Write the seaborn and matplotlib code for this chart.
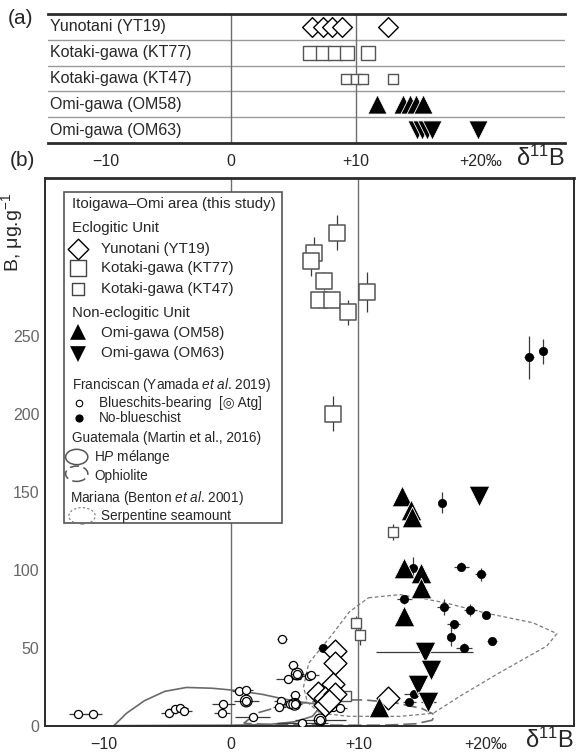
import matplotlib
matplotlib.use("Agg")
import matplotlib.pyplot as plt
from matplotlib.patches import Rectangle, Ellipse
import seaborn as sns


# Panel (a): d11B of each sample, one row per locality
ROW_LABELS = ["Yunotani (YT19)", "Kotaki-gawa (KT77)", "Kotaki-gawa (KT47)",
              "Omi-gawa (OM58)", "Omi-gawa (OM63)"]
A_YT19 = [6.5, 7.4, 8.1, 8.9, 12.6]
A_KT77 = [6.3, 7.4, 8.3, 9.3, 11.0]
A_KT47 = [9.2, 10.0, 10.6, 13.0]
A_OM58 = [11.7, 13.8, 14.3, 14.8, 15.4]
A_OM63 = [14.9, 15.3, 15.7, 16.1, 19.8]

# Panel (b): d11B vs B (ug/g)
YT19_X = [8.2, 8.2, 8.0, 6.8, 7.4, 8.2, 7.4, 7.7, 12.3]
YT19_Y = [48, 40, 27, 21, 18, 20, 13, 16, 18]
YT19_YERR = [6, 0, 0, 0, 0, 0, 0, 0, 0]

KT77_X = [8.3, 6.5, 6.3, 7.3, 6.9, 7.9, 9.2, 10.7, 8.0]
KT77_Y = [316, 303, 298, 285, 273, 273, 265, 278, 200]
KT77_YERR = [11, 10, 10, 6, 5, 5, 8, 13, 11]

KT47_X = [12.7, 9.8, 10.1, 9.0]
KT47_Y = [124, 66, 58, 19]
KT47_YERR = [5, 4, 6, 2]

OM58_X = [13.4, 14.1, 14.2, 13.6, 14.9, 14.9, 13.6, 11.6]
OM58_Y = [147, 138, 134, 101, 98, 88, 70, 12]

OM63_X = [19.5, 15.2, 15.7, 14.7, 15.5]
OM63_Y = [147, 47, 36, 26, 15]
OM63_XERR = [0.3, 3.8, 0.3, 0.3, 0.6]
OM63_YERR = [5, 3, 2, 2, 3]

# Franciscan, no-blueschist
NOBS_X = [23.4, 24.5, 16.6, 18.1, 19.6, 13.6, 16.7, 18.8, 20.0, 17.5, 17.3,
          20.5, 18.3, 7.2, 14.4, 14.0, 14.3]
NOBS_Y = [236, 240, 143, 102, 97, 81, 76, 74, 71, 65, 57, 54, 50, 50, 20, 15, 101]
NOBS_XERR = [0.4, 0.3, 0.3, 0.6, 0.4, 0.6, 0.5, 0.5, 0.3, 0.5, 0.2, 0.4, 0.6,
             0.4, 0.8, 0.5, 0.3]
NOBS_YERR = [14, 8, 7, 3, 4, 3, 5, 4, 2, 3, 6, 2, 3, 2, 2, 2, 7]

# Franciscan, blueschist-bearing
BS_X = [-12.0, -10.8, -4.9, -4.4, -4.0, -3.7, -0.6, -0.7, 0.6, 1.2, 1.2, 1.7,
        4.0, 4.9, 5.2, 4.5, 6.1, 5.0, 3.9, 3.8, 4.6, 5.0, 5.6, 7.0, 8.0, 8.6, 6.3]
BS_Y = [7.7, 7.7, 8.3, 10.5, 11.1, 9.6, 13.7, 7.9, 22.4, 22.9, 15.8, 5.4,
        55.6, 38.9, 33.1, 29.9, 32.0, 19.7, 16.0, 12.2, 13.9, 13.7, 1.9, 3.7,
        11.8, 11.1, 32.5]
BS_XERR = [0.7, 0.7, 0.6, 0.6, 0.6, 0.6, 0.9, 0.6, 0.5, 0.5, 1.0, 1.4,
           0.4, 0.4, 0.5, 1.0, 0.5, 0.4, 0.5, 0.5, 0.6, 0.6, 2.0, 2.0,
           0.5, 0.5, 0.6]
# Atg-bearing samples (double circle)
ATG_X = [5.2, 5.0, 1.2, 7.0]
ATG_Y = [33.1, 13.7, 15.8, 3.7]

# Outlines
HP_X = [-9.2, -8.2, -6.8, -5.2, -3.5, -1.5, 0.5, 2.5, 4.2, 5.6, 6.6, 6.9,
        6.4, 5.0, 3.0, 0.0, -4.0, -9.2]
HP_Y = [0, 8, 16, 22, 24.5, 24, 22.5, 20, 17, 15, 14, 11, 6, 2.5, 0.8, 0.3, 0.2, 0]
OPH_X = [1.0, 2.0, 3.5, 5.5, 8.0, 10.5, 13.0, 15.0, 16.0, 15.8, 14.5, 12.0,
         9.0, 6.0, 3.0, 1.0]
OPH_Y = [1.5, 8.0, 11.5, 14.5, 16.5, 16.5, 14.5, 11.0, 7.0, 3.5, 1.2, 0.3,
         0.3, 0.5, 0.8, 1.5]
SEA_X = [10.8, 13.3, 16.7, 20.1, 23.7, 25.6, 24.8, 21.1, 18.0, 15.9, 13.3,
         9.3, 7.0, 6.0, 5.7, 6.1, 8.0, 9.3, 10.8]
SEA_Y = [82, 84, 79, 72, 66, 59, 51, 34, 19, 8, 6, 6, 8, 15, 25, 40, 59, 73, 82]

XTICKS = [-10, 0, 10, 20]
XTICK_LABELS = ["\u221210", "0", "+10", "+20\u2030"]
YTICKS = [0, 50, 100, 150, 200, 250, 300]
YTICK_LABELS = ["0", "50", "100", "150", "200", "250", ""]

sns.set_style("white")
plt.rcParams["font.family"] = ["Liberation Sans", "DejaVu Sans"]
plt.rcParams["mathtext.fontset"] = "custom"
plt.rcParams["mathtext.rm"] = "Liberation Sans"
plt.rcParams["mathtext.it"] = "Liberation Sans:italic"

DARK = "#2b2b2b"
GRID = "#6e6e6e"

fig = plt.figure(figsize=(5.76, 7.52), dpi=100)
ax_a = fig.add_axes([0.0833, 0.8098, 0.8976, 0.1715])
ax_b = fig.add_axes([0.0781, 0.0350, 0.9184, 0.7283])


def scatter(ax, x, y, marker, size, face, edge="black", lw=1.0, z=4):
    sns.scatterplot(x=x, y=y, marker=marker, s=size, facecolor=face,
                    edgecolor=edge, linewidth=lw, ax=ax, zorder=z, legend=False)


# ---------- panel (a) ----------
ax_a.set_xlim(-14.64, 26.72)
ax_a.set_ylim(5, 0)
for s in ["left", "right"]:
    ax_a.spines[s].set_visible(False)
for s in ["top", "bottom"]:
    ax_a.spines[s].set_linewidth(2)
    ax_a.spines[s].set_color(DARK)
for yy in [1, 2, 3, 4]:
    ax_a.axhline(yy, color="#9a9a9a", lw=1, zorder=1)
for xx in [0, 10]:
    ax_a.axvline(xx, color=GRID, lw=1, zorder=1)
for i, lab in enumerate(ROW_LABELS):
    ax_a.text(0.003, i + 0.5, lab, transform=ax_a.get_yaxis_transform(),
              ha="left", va="center", fontsize=11.5)

scatter(ax_a, A_YT19, [0.5] * len(A_YT19), "D", 100, "white")
scatter(ax_a, A_KT77, [1.5] * len(A_KT77), "s", 115, "white", edge="#555555")
scatter(ax_a, A_KT47, [2.5] * len(A_KT47), "s", 55, "white", edge="#555555")
scatter(ax_a, A_OM58, [3.5] * len(A_OM58), "^", 190, "black", edge="white", lw=0.6)
scatter(ax_a, A_OM63, [4.5] * len(A_OM63), "v", 190, "black", edge="white", lw=0.6)

ax_a.set_yticks([])
ax_a.set_xticks(XTICKS)
ax_a.set_xticklabels(XTICK_LABELS, fontsize=11.5)
ax_a.tick_params(axis="x", direction="out", length=6, width=1, color=DARK, pad=2)
ax_a.set_xlabel("")
ax_a.set_ylabel("")
ax_a.text(1.0, -0.12, "\u03b4$^{\\mathregular{11}}$B", transform=ax_a.transAxes,
          ha="right", va="center", fontsize=17)

# ---------- panel (b) ----------
ax_b.set_xlim(-14.61, 26.94)
ax_b.set_ylim(0, 351)
for s in ["left", "bottom", "right"]:
    ax_b.spines[s].set_linewidth(1.4)
    ax_b.spines[s].set_color(DARK)
ax_b.spines["top"].set_linewidth(2)
ax_b.spines["top"].set_color(DARK)
for xx in [0, 10]:
    ax_b.axvline(xx, color=GRID, lw=1, zorder=1)

# outlines
ax_b.plot(HP_X, HP_Y, color="#6a6a6a", lw=1.2, zorder=2)
ax_b.plot(OPH_X, OPH_Y, color="#6a6a6a", lw=1.2, ls=(0, (8, 3)), zorder=2)
ax_b.plot(SEA_X, SEA_Y, color="#7a7a7a", lw=0.9, ls=(0, (3, 2)), zorder=2)

# error bars
ebk = dict(fmt="none", ecolor="#3a3a3a", elinewidth=0.9, capsize=0, zorder=3)
ax_b.errorbar(BS_X, BS_Y, xerr=BS_XERR, **ebk)
ax_b.errorbar(NOBS_X, NOBS_Y, xerr=NOBS_XERR, yerr=NOBS_YERR, **ebk)
ax_b.errorbar(KT77_X, KT77_Y, xerr=0.4, yerr=KT77_YERR, **ebk)
ax_b.errorbar(KT47_X, KT47_Y, xerr=0.3, yerr=KT47_YERR, **ebk)
ax_b.errorbar(OM63_X, OM63_Y, xerr=OM63_XERR, yerr=OM63_YERR, **ebk)
ax_b.errorbar(YT19_X, YT19_Y, yerr=YT19_YERR, **ebk)

# markers
scatter(ax_b, BS_X, BS_Y, "o", 34, "white", lw=0.9)
scatter(ax_b, ATG_X, ATG_Y, "o", 70, "none", lw=0.9, z=5)
scatter(ax_b, NOBS_X, NOBS_Y, "o", 36, "black", lw=0.5)
scatter(ax_b, KT77_X, KT77_Y, "s", 120, "white", edge="#555555", lw=1.1)
scatter(ax_b, KT47_X, KT47_Y, "s", 60, "white", edge="#555555", lw=1.0)
scatter(ax_b, YT19_X, YT19_Y, "D", 135, "white", lw=1.0, z=6)
scatter(ax_b, OM58_X, OM58_Y, "^", 220, "black", edge="white", lw=0.6, z=6)
scatter(ax_b, OM63_X, OM63_Y, "v", 220, "black", edge="white", lw=0.6, z=6)

ax_b.set_xticks(XTICKS)
ax_b.set_xticklabels(XTICK_LABELS, fontsize=11.5)
ax_b.set_yticks(YTICKS)
ax_b.set_yticklabels(YTICK_LABELS, fontsize=11.5, color="#666666")
ax_b.tick_params(axis="x", direction="out", length=6, width=1, color=DARK, pad=2)
ax_b.tick_params(axis="y", direction="in", length=7, width=1, color=DARK, pad=4)
ax_b.set_xlabel("")
ax_b.set_ylabel("B, \u03bcg.g$^{\\mathregular{-1}}$", fontsize=14)
ax_b.yaxis.set_label_coords(-0.037, 0.9)
ax_b.text(1.0, -0.027, "\u03b4$^{\\mathregular{11}}$B", transform=ax_b.transAxes,
          ha="right", va="center", fontsize=17)

# ---------- legend box ----------
T = ax_b.transAxes
ax_b.add_patch(Rectangle((0.0359, 0.370), 0.412, 0.6044, transform=T,
                         facecolor="white", edgecolor="#555555", lw=1.2, zorder=8))


def leg_text(x, y, s, size=10.8):
    ax_b.text(x, y, s, transform=T, ha="left", va="center", fontsize=size, zorder=9)


def leg_mark(x, y, marker, size, face, edge="black", lw=1.0):
    ax_b.scatter([x], [y], marker=marker, s=size, facecolor=face, edgecolor=edge,
                 linewidths=lw, transform=T, zorder=9, clip_on=False)


leg_text(0.051, 0.9525, "Itoigawa\u2013Omi area (this study)")
leg_text(0.051, 0.9087, "Eclogitic Unit")
leg_mark(0.0624, 0.8704, "D", 110, "white")
leg_text(0.1059, 0.8704, "Yunotani (YT19)")
leg_mark(0.0624, 0.8357, "s", 140, "white", edge="#444444")
leg_text(0.1059, 0.8357, "Kotaki-gawa (KT77)")
leg_mark(0.0624, 0.7974, "s", 70, "white", edge="#444444")
leg_text(0.1059, 0.7974, "Kotaki-gawa (KT47)")
leg_text(0.051, 0.7535, "Non-eclogitic Unit")
leg_mark(0.0624, 0.7190, "^", 130, "black", edge="none")
leg_text(0.1059, 0.7170, "Omi-gawa (OM58)")
leg_mark(0.0624, 0.6785, "v", 130, "black", edge="none")
leg_text(0.1059, 0.6805, "Omi-gawa (OM63)")
leg_text(0.051, 0.6221, "Franciscan (Yamada $\\it{et\\ al}$. 2019)", 9.8)
leg_mark(0.0645, 0.5892, "o", 22, "white", lw=0.8)
leg_text(0.102, 0.5892, "Blueschits-bearing  [\u25ce Atg]", 9.8)
leg_mark(0.0645, 0.5618, "o", 24, "black")
leg_text(0.102, 0.5618, "No-blueschist", 9.8)
leg_text(0.051, 0.5253, "Guatemala (Martin et al., 2016)", 9.8)
ax_b.add_patch(Ellipse((0.060, 0.4906), 0.042, 0.028, transform=T, fill=False,
                       edgecolor="#555555", lw=1.1, zorder=9))
ax_b.add_patch(Ellipse((0.060, 0.4600), 0.042, 0.028, transform=T, fill=False,
                       edgecolor="#555555", lw=1.1, ls=(0, (6, 3)), zorder=9))
leg_text(0.093, 0.4906, "H$\\it{P}$ m\u00e9lange", 9.8)
leg_text(0.093, 0.4559, "Ophiolite", 9.8)
leg_text(0.047, 0.4157, "Mariana (Benton $\\it{et\\ al}$. 2001)", 9.8)
ax_b.add_patch(Ellipse((0.070, 0.383), 0.050, 0.030, transform=T, fill=False,
                       edgecolor="#777777", lw=0.8, ls=(0, (2, 2)), zorder=9))
leg_text(0.105, 0.383, "Serpentine seamount", 9.8)

fig.text(0.014, 0.976, "(a)", fontsize=15, ha="left", va="center")
fig.text(0.017, 0.787, "(b)", fontsize=15, ha="left", va="center")

plt.savefig("out.png", dpi=100)
plt.close()
